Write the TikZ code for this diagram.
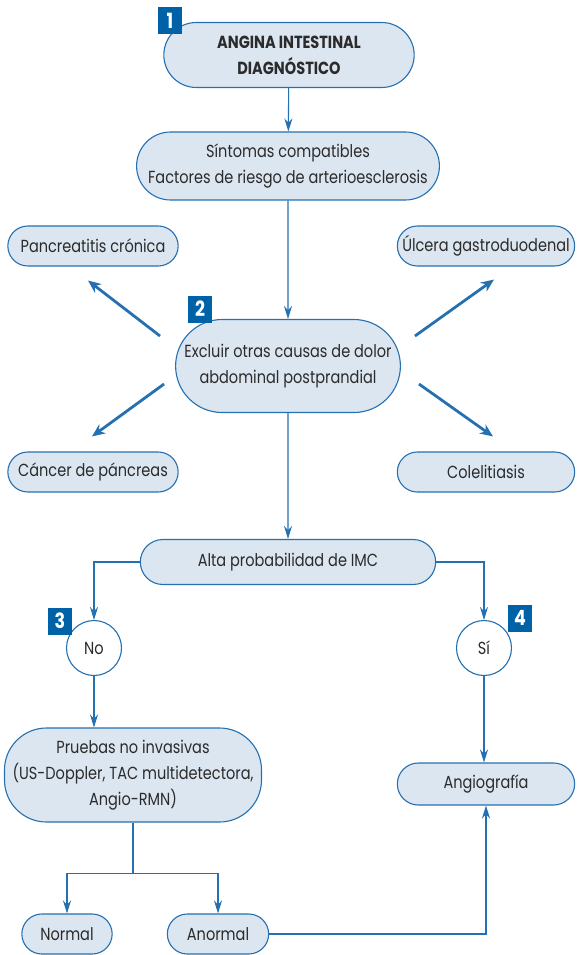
\documentclass[tikz,border=0pt]{standalone}
\usepackage{fontspec}
\setmainfont{Poppins}[FakeStretch=0.83]
\usepackage{tikz}
\usetikzlibrary{arrows.meta,calc,positioning,shapes.misc}
\definecolor{edge}{HTML}{2470B0}
\definecolor{pale}{HTML}{DCE6F1}
\definecolor{badge}{HTML}{0062A6}
\definecolor{ink}{HTML}{2B2B2B}
\tikzset{flow/.style={-{Stealth[length=13pt,width=8pt]},draw=edge,line width=1.1pt},link/.style={draw=edge,line width=1.1pt},fat/.style={-{Stealth[length=13pt,width=11pt]},draw=edge,line width=2.8pt},pill/.style={rounded rectangle,draw=edge,fill=pale,line width=1.1pt,text=ink,align=center,font=\fontsize{17.5}{26}\selectfont},tag/.style={fill=badge,text=white,font=\fontsize{21}{22}\selectfont\bfseries,inner sep=0pt,minimum width=24pt,minimum height=27pt}}

\begin{document}
\begin{tikzpicture}[x=1pt,y=-1pt]
\useasboundingbox (0,0) rectangle (580,955);
\node[pill,minimum width=257,minimum height=65,font=\fontsize{17.5}{26}\selectfont\bfseries] (a) at (289,55) {ANGINA INTESTINAL\\DIAGNÓSTICO};
\node[pill,minimum width=302,minimum height=68] (s) at (288,166) {Síntomas compatibles\\Factores de riesgo de arterioesclerosis};
\node[pill,minimum width=220,minimum height=93] (e) at (288,366) {Excluir otras causas de dolor\\abdominal postprandial};
\node[pill,minimum width=177,minimum height=40] (pc) at (93,246) {Pancreatitis crónica};
\node[pill,minimum width=184,minimum height=40] (ug) at (486,246) {Úlcera gastroduodenal};
\node[pill,minimum width=177,minimum height=40] (ca) at (93,472) {Cáncer de páncreas};
\node[pill,minimum width=184,minimum height=40] (co) at (486,472) {Colelitiasis};
\node[pill,minimum width=302,minimum height=45] (p) at (288,562) {Alta probabilidad de IMC};
\node[circle,draw=edge,fill=white,line width=1.1pt,minimum size=55,text=ink,font=\fontsize{17.5}{26}\selectfont] (no) at (94,648) {No};
\node[circle,draw=edge,fill=white,line width=1.1pt,minimum size=55,text=ink,font=\fontsize{17.5}{26}\selectfont] (si) at (484,648) {Sí};
\node[pill,rectangle,rounded corners=42pt,inner xsep=4pt,minimum width=257,minimum height=94] (nt) at (133,775) {Pruebas no invasivas\\(US-Doppler, TAC multidetectora,\\Angio-RMN)};
\node[pill,minimum width=184,minimum height=42] (ag) at (486,784) {Angiografía};
\node[pill,minimum width=97,minimum height=40] (nr) at (67,934) {Normal};
\node[pill,minimum width=108,minimum height=40] (ab) at (218,934) {Anormal};
\node[tag] (n1) at (170,21) {1};
\node[tag] (n2) at (200,309) {2};
\node[tag] (n3) at (60,621) {3};
\node[tag] (n4) at (520,618) {4};
\draw[flow] (a)--(s);\draw[flow] (s)--(e);\draw[flow] (e)--(p);
\draw[fat] ($(e.west)+(-15,-30)$)--($(pc.south)+(-5,14)$);
\draw[fat] ($(e.east)+(14,-30)$)--($(ug.south)+(8,13)$);
\draw[fat] ($(e.west)+(-11,18)$)--($(ca.north)+(-1,-15)$);
\draw[fat] ($(e.east)+(18,18)$)--($(co.north)+(7,-15)$);
\draw[flow] (p.west)-|(no);\draw[flow] (p.east)-|(si);
\draw[flow] (no)--(no|-nt.north);\draw[flow] (si)--(si|-ag.north);
\draw[link] (nt.south)--++(0,51) coordinate (j);
\draw[flow] (j)-|(nr);\draw[flow] (j)-|(ab);
\draw[flow] (ab.east)-|(ag.south);
\end{tikzpicture}
\end{document}
